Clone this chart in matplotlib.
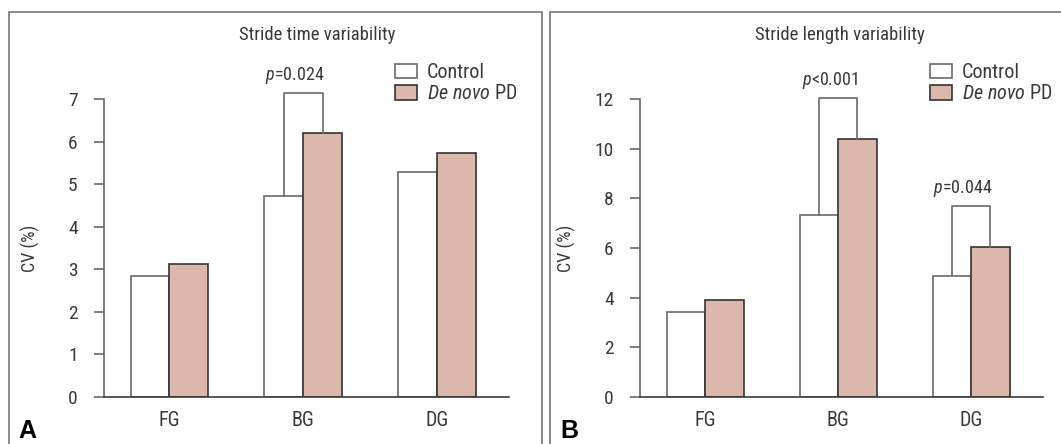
import numpy as np
import matplotlib
matplotlib.use("Agg")
import matplotlib.pyplot as plt
from matplotlib.patches import Patch, Rectangle

# data
groups = ["FG", "BG", "DG"]
time_control = [2.85, 4.71, 5.29]
time_pd = [3.13, 6.20, 5.72]
length_control = [3.42, 7.32, 4.89]
length_pd = [3.91, 10.40, 6.04]

# significance brackets: (group index, bracket top, label)
time_sig = [(1, 7.13, "p=0.024")]
length_sig = [(1, 12.04, "p<0.001"), (2, 7.68, "p=0.044")]

plt.rcParams["font.family"] = ["Roboto Condensed", "DejaVu Sans"]
plt.rcParams["font.weight"] = 400
plt.rcParams["mathtext.fontset"] = "custom"
plt.rcParams["mathtext.rm"] = "Roboto Condensed"
plt.rcParams["mathtext.it"] = "Roboto Condensed:italic"

PD_COLOR = "#dbb8ab"
CTRL_EDGE = "#6a6a6a"
PD_EDGE = "#333333"
TXT = "#3a3a3a"
W, H = 1061, 444

fig = plt.figure(figsize=(W / 100, H / 100), dpi=100)

# panel frames
fig.patches.append(Rectangle((9 / W, -0.1), (542 - 9) / W, 1.1 - 12 / H,
                             transform=fig.transFigure, fill=False,
                             edgecolor="#777777", lw=1.2))
fig.patches.append(Rectangle((550 / W, -0.1), 0.5, 1.1 - 12 / H,
                             transform=fig.transFigure, fill=False,
                             edgecolor="#777777", lw=1.2))


def panel(left_px, right_px, ctrl, pd, ymax, yticks, sig, title, title_x, letter, letter_x, leg_x):
    ax = fig.add_axes([left_px / W, (H - 397) / H, (right_px - left_px) / W, (397 - 99) / H])
    x = np.arange(len(groups))
    bw = 0.29
    ax.bar(x - bw / 2, ctrl, bw, color="white", edgecolor=CTRL_EDGE, lw=1.2)
    ax.bar(x + bw / 2, pd, bw, color=PD_COLOR, edgecolor=PD_EDGE, lw=1.2)
    for gi, top, lab in sig:
        ax.plot([gi - bw / 2, gi - bw / 2, gi + bw / 2, gi + bw / 2],
                [ctrl[gi], top, top, pd[gi]], color=CTRL_EDGE, lw=1.2,
                clip_on=False, zorder=1)
        txt = "$\\it{p}$" + lab[1:]
        ax.text(gi - 0.06, top + ymax * 0.06, txt, ha="center", va="center",
                fontsize=13, color=TXT)
    ax.set_xlim(-0.49, 2.54)
    ax.set_ylim(0, ymax)
    ax.set_yticks(yticks)
    ax.set_xticks(x)
    ax.set_xticklabels(groups)
    ax.tick_params(axis="x", length=0, pad=10, labelsize=14.5, colors=TXT)
    ax.tick_params(axis="y", length=7, width=1.2, labelsize=14, colors="#666666",
                   labelcolor=TXT, pad=12)
    for s in ["top", "right"]:
        ax.spines[s].set_visible(False)
    ax.spines["left"].set_color("#666666")
    ax.spines["left"].set_linewidth(1.2)
    ax.spines["bottom"].set_color(TXT)
    ax.spines["bottom"].set_linewidth(1.2)
    ax.set_ylabel("CV (%)", fontsize=13, color=TXT)
    ax.yaxis.set_label_coords(-64 / (right_px - left_px), 0.5)
    fig.text(title_x / W, 1 - 35 / H, title, ha="center", va="center",
             fontsize=13.5, color=TXT)
    fig.text(letter_x / W, 1 - 438 / H, letter, ha="left", va="baseline",
             fontsize=18, fontweight="bold", family="Liberation Sans")
    handles = [Patch(facecolor="white", edgecolor=CTRL_EDGE, lw=1.2),
               Patch(facecolor=PD_COLOR, edgecolor=PD_EDGE, lw=1.2)]
    ax.legend(handles, ["Control", "$\\it{De\\ novo}$ PD"], loc="upper left",
              bbox_to_anchor=(leg_x / W, 1 - 63 / H), bbox_transform=fig.transFigure,
              frameon=False, fontsize=14.5, handlelength=1.1, handleheight=0.75,
              handletextpad=0.5, labelspacing=0.12, borderpad=0, borderaxespad=0,
              labelcolor=TXT)
    return ax


panel(104, 509, time_control, time_pd, 7, range(0, 8), time_sig,
      "Stride time variability", 317, "A", 18, 395)
panel(640, 1043, length_control, length_pd, 12, range(0, 13, 2), length_sig,
      "Stride length variability", 840, "B", 560, 930)

fig.savefig("out.png", dpi=100)
